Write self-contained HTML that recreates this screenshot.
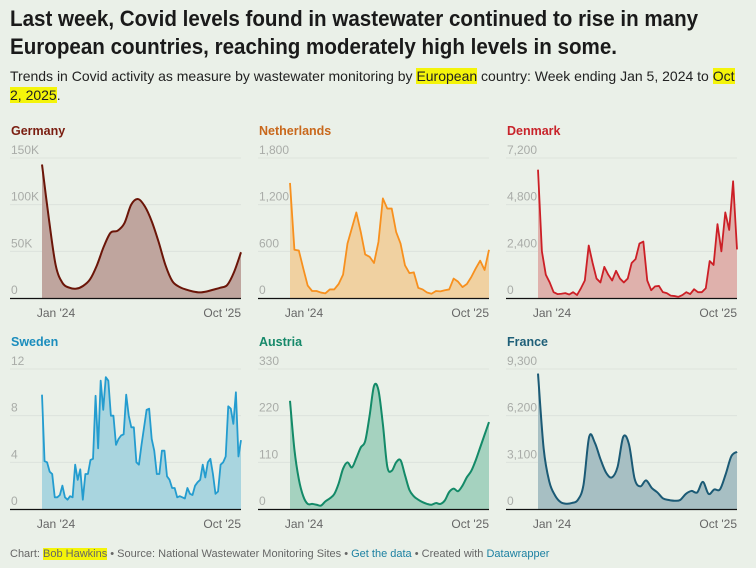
<!DOCTYPE html>
<html><head><meta charset="utf-8">
<style>
html,body{margin:0;padding:0;background:#eaf0e8;}
body{width:756px;height:568px;position:relative;overflow:hidden;font-family:"Liberation Sans",sans-serif;}
#title{position:absolute;left:10px;top:5px;font-family:"Liberation Sans",sans-serif;font-weight:bold;font-size:22px;line-height:28px;color:#1a1a1a;white-space:nowrap;margin:0;transform:scaleX(0.935);transform-origin:0 0;}
#subtitle{position:absolute;left:10px;top:67px;font-size:14px;line-height:19px;color:#222;white-space:nowrap;}
.hl{background:#f4f40a;}
#footer{position:absolute;left:10px;top:548px;font-size:11px;color:#666;white-space:nowrap;}
#footer a{color:#1d81a2;text-decoration:none;}
svg{position:absolute;left:0;top:0;}
</style></head>
<body>
<h1 id="title">Last week, Covid levels found in wastewater continued to rise in many<br>European countries, reaching moderately high levels in some.</h1>
<div id="subtitle">Trends in Covid activity as measure by wastewater monitoring by <span class="hl">European</span> country: Week ending Jan 5, 2024 to <span class="hl">Oct</span><br><span class="hl">2, 2025</span>.</div>
<svg id="chart" width="756" height="568"></svg>
<div id="footer">Chart: <span class="hl">Bob Hawkins</span> • Source: National Wastewater Monitoring Sites • <a href="#">Get the data</a> • Created with <a href="#">Datawrapper</a></div>
<script>
const germany=[143,85,35,16,11,10,13,20,35,55,70,72,80,100,106,98,82,60,35,18,12,9,7,6,7,9,11,14,28,49];
const netherlands=[1480,620,610,380,160,90,90,70,60,110,110,180,300,700,900,1100,850,560,530,450,720,1280,1150,1150,850,700,420,320,330,130,110,70,55,90,85,100,110,250,210,140,180,270,380,480,360,620];
const denmark=[6600,2400,1200,800,300,200,220,250,180,300,150,500,900,2700,1800,1000,800,1600,1200,900,1400,1000,800,1000,1800,2000,2800,2900,900,400,600,620,300,250,120,100,60,150,300,200,450,300,300,500,1900,1700,3800,2400,4400,3500,6000,2500];
const sweden=[9.8,4.1,4.0,3.2,3.0,1.0,1.0,1.2,2.0,1.0,0.8,1.1,1.0,3.8,2.5,3.4,0.8,3.0,3.0,4.2,4.3,9.7,5.2,11,8.5,11.3,11,8,8,5.5,6,6.3,6.4,9.8,8,7,7,4,3.8,5.5,7,8.5,8.6,6,5,3,3,5,5,2.8,2.5,1.8,1.8,1,1.1,1.0,0.9,1.8,1.3,1.2,2,2.3,2.5,3.8,2.7,4,4.3,3,1.3,1.5,3.8,4,4.5,8.8,8.6,7.3,10,4.5,5.9];
const austria=[255,140,70,30,12,12,10,8,18,25,35,60,95,110,98,120,145,160,220,290,280,200,100,90,110,115,80,45,30,22,16,12,10,14,12,20,40,48,42,55,75,90,115,145,175,205];
const france=[9000,4000,1800,900,450,350,400,600,1600,4800,4400,3300,2400,2100,2800,4800,4300,2000,1500,1900,1400,1100,700,600,550,600,1000,1200,1100,1800,1000,1300,1300,2300,3500,3800];
const countries=["Germany","Netherlands","Denmark","Sweden","Austria","France"];
const ticksG=["0","50K","100K","150K"],ticksN=["0","600","1,200","1,800"],ticksD=["0","2,400","4,800","7,200"];
const ticksS=["0","4","8","12"],ticksA=["0","110","220","330"],ticksF=["0","3,100","6,200","9,300"];
const maxes=[150,1800,7200,12,330,9300];
const xLabels=["Jan '24","Oct '25"];

const series=[germany,netherlands,denmark,sweden,austria,france];
const tickSets=[ticksG,ticksN,ticksD,ticksS,ticksA,ticksF];
const styles=[
 {line:"#6b1508",fill:"#bfa59e",title:"#7a1d10",smooth:true},
 {line:"#f7901e",fill:"#f0d1a1",title:"#c9681c",smooth:false},
 {line:"#cc1f26",fill:"#dfb1ac",title:"#c8232a",smooth:false},
 {line:"#239ccf",fill:"#a9d5df",title:"#1b8dbd",smooth:false},
 {line:"#138a68",fill:"#a5d2bf",title:"#16896a",smooth:true},
 {line:"#1b5a75",fill:"#a7bfc3",title:"#1e5f78",smooth:true}];
const NS="http://www.w3.org/2000/svg";
const svg=document.getElementById('chart');
function mk(tag,attrs,parent){const e=document.createElementNS(NS,tag);for(const k in attrs)e.setAttribute(k,attrs[k]);(parent||svg).appendChild(e);return e;}
function pathStr(pts,smooth){
 let d="M"+pts[0][0]+","+pts[0][1];
 for(let i=1;i<pts.length;i++){
  if(!smooth){d+="L"+pts[i][0]+","+pts[i][1];continue;}
  const p0=pts[Math.max(0,i-2)],p1=pts[i-1],p2=pts[i],p3=pts[Math.min(pts.length-1,i+1)];
  const c1x=p1[0]+(p2[0]-p0[0])/6,c1y=p1[1]+(p2[1]-p0[1])/6;
  const c2x=p2[0]-(p3[0]-p1[0])/6,c2y=p2[1]-(p3[1]-p1[1])/6;
  d+="C"+c1x+","+c1y+" "+c2x+","+c2y+" "+p2[0]+","+p2[1];
 }
 return d;
}
for(let k=0;k<6;k++){
 const col=k%3,row=Math.floor(k/3);
 const left=10+col*248,axisR=left+231,x0=left+32,x1=axisR;
 const base=row?509:298,top=base-140;
 const data=series[k],st=styles[k],max=maxes[k];
 const xs=i=>x0+(x1-x0)*i/(data.length-1);
 const ys=v=>base-(v/max)*(base-top);
 const g=mk('g',{});
 
 
 const t=mk('text',{x:left+1,y:top-23,'font-size':12.5,'font-weight':'bold',fill:st.title,'font-family':'Liberation Sans, sans-serif'},g);
 t.textContent=countries[k];
 
 
 const ticks=tickSets[k];
 for(let j=0;j<ticks.length;j++){
  const v=max*j/(ticks.length-1),y=ys(v);
  if(j>0){const gl=mk('line',{x1:left,x2:axisR,y1:y,y2:y,stroke:'#dde3dc','stroke-width':1},g);
   
   }
  const tl=mk('text',{x:left+1,y:y-4,'font-size':12,fill:'#a9aca8','font-family':'Liberation Sans, sans-serif'},g);
  tl.textContent=ticks[j];
  
  
 }
 const pts=data.map((v,i)=>[xs(i),ys(v)]);
 const line=pathStr(pts,st.smooth);
 const area=mk('path',{d:line+"L"+x1+","+base+"L"+x0+","+base+"Z",fill:st.fill},g);
 
 
 const ln=mk('path',{d:line,fill:'none',stroke:st.line,'stroke-width':st.smooth?2:1.8,'stroke-linejoin':'round'},g);
 
 
 const ax=mk('line',{x1:left,x2:axisR,y1:base+0.5,y2:base+0.5,stroke:'#111','stroke-width':1.2},g);
 
 
 const xl1=mk('text',{x:x0+14,y:base+19,'font-size':12,fill:'#666','text-anchor':'middle','font-family':'Liberation Sans, sans-serif'},g);
 xl1.textContent=xLabels[0];
 
 
 const xl2=mk('text',{x:axisR,y:base+19,'font-size':12,fill:'#666','text-anchor':'end','font-family':'Liberation Sans, sans-serif'},g);
 xl2.textContent=xLabels[1];
 
 
}
</script>
</body></html>
